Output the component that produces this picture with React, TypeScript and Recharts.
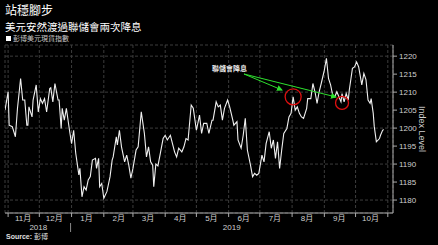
import React from 'react';
import { ComposedChart, Line, XAxis, YAxis, CartesianGrid, ReferenceDot } from 'recharts';

// day offsets counted from 2018-10-01
const days = [
  28, 31, 32, 35, 38, 40, 43, 45, 47, 49, 50, 51, 54, 55, 58, 60, 62, 64, 66, 68,
  71, 72, 74, 76, 79, 80, 82, 83, 85, 87, 90, 92, 94, 96, 99, 100, 102, 104, 106, 108,
  110, 112, 115, 116, 118, 119, 121, 123, 126, 129, 131, 132, 135, 136, 138, 140, 143, 145, 147, 149,
  151, 154, 156, 159, 162, 164, 166, 168, 170, 171, 173, 175, 177, 180, 182, 184, 187, 189, 191, 193,
  195, 198, 200, 202, 204, 207, 209, 212, 215, 217, 219, 222, 224, 227, 228, 231, 233, 235, 237, 239,
  242, 244, 247, 248, 251, 252, 255, 257, 259, 261, 264, 266, 268, 270, 272, 275, 277, 279, 282, 284,
  286, 288, 290, 292, 294, 296, 299, 301, 303, 305, 307, 309, 311, 313, 315, 318, 319, 322, 324, 326,
  328, 330, 332, 335, 337, 339, 341, 343, 345, 347, 349, 351, 352, 354, 356, 358, 359, 362, 364, 366,
  368, 371, 373, 375, 377, 379, 380, 382, 383, 385, 388, 389, 391, 392,
];

const indexLevel = [
  1205.0, 1210.1, 1200.8, 1200.4, 1197.6, 1205.5, 1213.8, 1207.8, 1207.8, 1200.8, 1200.8, 1205.9, 1203.1, 1207.8, 1212.0, 1204.5, 1208.2, 1206.9, 1208.2, 1204.5,
  1211.0, 1211.2, 1207.3, 1212.4, 1207.8, 1207.8, 1199.9, 1205.5, 1202.2, 1205.5, 1199.4, 1195.7, 1199.4, 1193.0, 1187.0, 1188.8, 1180.9, 1183.7, 1182.8, 1185.6,
  1186.5, 1191.1, 1191.6, 1188.8, 1191.6, 1183.7, 1184.6, 1180.5, 1182.4, 1186.5, 1191.1, 1192.0, 1197.6, 1195.3, 1199.4, 1194.8, 1190.6, 1192.5, 1189.7, 1186.1,
  1188.8, 1193.9, 1194.8, 1204.5, 1198.5, 1192.0, 1194.8, 1190.6, 1189.7, 1183.7, 1190.0, 1189.5, 1192.5, 1197.1, 1198.0, 1196.7, 1198.0, 1195.7, 1193.4, 1192.0,
  1194.4, 1193.4, 1194.8, 1197.1, 1196.7, 1206.4, 1205.5, 1199.4, 1203.6, 1198.5, 1201.3, 1201.3, 1198.5, 1202.2, 1202.2, 1207.3, 1205.9, 1206.4, 1202.2, 1205.5,
  1207.8, 1205.9, 1202.2, 1200.8, 1201.8, 1196.7, 1194.4, 1198.0, 1202.7, 1193.9, 1189.7, 1186.5, 1187.4, 1186.9, 1187.4, 1192.5, 1190.6, 1195.7, 1199.0, 1194.4,
  1196.7, 1191.6, 1196.2, 1188.8, 1193.9, 1198.5, 1199.9, 1203.1, 1204.1, 1208.7, 1205.0, 1205.9, 1204.1, 1203.1, 1202.7, 1205.5, 1208.2, 1208.2, 1212.4, 1210.1,
  1206.9, 1210.1, 1212.4, 1216.1, 1219.4, 1213.8, 1212.0, 1209.2, 1208.7, 1210.1, 1208.7, 1207.3, 1209.6, 1207.3, 1209.6, 1207.8, 1210.6, 1216.6, 1217.0, 1218.4,
  1217.0, 1212.0, 1215.2, 1213.5, 1207.8, 1206.9, 1208.2, 1204.1, 1200.4, 1196.2, 1197.1, 1198.0, 1199.4, 1199.6,
];

const monthStarts = [31, 61, 92, 123, 151, 182, 212, 243, 273, 304, 335, 365, 396];
const monthLabels = ['11月', '12月', '1月', '2月', '3月', '4月', '5月', '6月', '7月', '8月', '9月', '10月'];
const yearLabels = ['2018', '2019'];
const yearCentres = [60, 246]; // day offsets where the year labels sit
const yTicks = [1180, 1185, 1190, 1195, 1200, 1205, 1210, 1215, 1220];

const data = days.map((d, i) => ({ d, v: indexLevel[i] }));

const X_DOMAIN: [number, number] = [28, 401];
const PLOT_W = 388;
const PX_PER_DAY = PLOT_W / (X_DOMAIN[1] - X_DOMAIN[0]);

const FONT = "Arial, 'Liberation Sans', 'Noto Sans CJK TC', sans-serif";

const MonthTick = (props: any) => {
  const { x, y, payload, index } = props;
  const label = monthLabels[index];
  const jan = payload.value === 92;
  return (
    <g>
      {label && (
        <text x={x + 15} y={y + 2} textAnchor="middle" fill="#cfcfcf" fontSize={8} fontFamily={FONT}>
          {label}
        </text>
      )}
      {jan && (
        <g>
          <line x1={x - 1} x2={x - 1} y1={y + 4} y2={y + 13} stroke="#888" strokeWidth={1} />
          {yearLabels.map((t, i) => (
            <text
              key={t}
              x={x + (yearCentres[i] - 92) * PX_PER_DAY}
              y={y + 11}
              textAnchor="middle"
              fill="#cfcfcf"
              fontSize={8}
              fontFamily={FONT}
            >
              {t}
            </text>
          ))}
        </g>
      )}
    </g>
  );
};

export default function App() {
  return (
    <div style={{ position: 'absolute', left: 0, top: 0, width: 438, height: 245, background: '#000', overflow: 'hidden' }}>
      <div style={{ position: 'absolute', left: 5, top: 4, color: '#fff', fontSize: 12, lineHeight: '12px', fontFamily: "'Noto Sans CJK TC', serif" }}>
        站穩腳步
      </div>
      <div style={{ position: 'absolute', left: 5, top: 20, color: '#fff', fontSize: 10.5, lineHeight: '13px', fontFamily: "'Noto Sans CJK TC', serif" }}>
        美元安然渡過聯儲會兩次降息
      </div>
      <div style={{ position: 'absolute', left: 6, top: 34, color: '#c8c8c8', fontSize: 7, lineHeight: '9px', fontFamily: "'Noto Sans CJK TC', sans-serif", display: 'flex', alignItems: 'center' }}>
        <span style={{ display: 'inline-block', width: 5, height: 5, background: '#fff', marginRight: 2 }} />
        彭博美元現貨指數
      </div>

      <ComposedChart width={438} height={245} data={data} margin={{ top: 45, right: 0, left: 5, bottom: 3 }}>
        <CartesianGrid stroke="#3c3c3c" strokeDasharray="3 2" />
        <XAxis
          dataKey="d"
          type="number"
          domain={X_DOMAIN}
          ticks={monthStarts}
          tick={<MonthTick />}
          tickSize={4}
          height={29}
          interval={0}
          axisLine={{ stroke: '#aaa' }}
          tickLine={{ stroke: '#aaa' }}
          allowDataOverflow
        />
        <YAxis
          orientation="right"
          type="number"
          domain={[1176.4, 1223.1]}
          ticks={yTicks}
          allowDataOverflow
          width={45}
          tickSize={4}
          axisLine={{ stroke: '#aaa' }}
          tickLine={{ stroke: '#aaa' }}
          tick={{ fill: '#cfcfcf', fontSize: 8, fontFamily: FONT }}
        />
        <Line
          dataKey="v"
          type="linear"
          stroke="#f0f0f0"
          strokeWidth={1.1}
          dot={false}
          isAnimationActive={false}
        />
        <ReferenceDot x={305} y={1208.7} r={8} fill="none" stroke="#e01010" strokeWidth={1.3} />
        <ReferenceDot x={352} y={1207} r={6.5} fill="none" stroke="#e01010" strokeWidth={1.3} />
      </ComposedChart>

      <svg width={438} height={245} style={{ position: 'absolute', left: 0, top: 0, pointerEvents: 'none' }}>
        <defs>
          <marker id="ah" markerWidth="6" markerHeight="6" refX="5" refY="3" orient="auto" markerUnits="userSpaceOnUse">
            <path d="M0,0 L6,3 L0,6 Z" fill="#2ee02e" />
          </marker>
        </defs>
        <line x1={244} y1={74} x2={282} y2={90} stroke="#2ee02e" strokeWidth={1} markerEnd="url(#ah)" />
        <line x1={244} y1={74} x2={336} y2={97} stroke="#2ee02e" strokeWidth={1} markerEnd="url(#ah)" />
        <text x={212} y={71} fill="#e8e8e8" fontSize={7} fontWeight="bold" fontFamily="'Noto Sans CJK TC', sans-serif">
          聯儲會降息
        </text>
        <text
          x={419}
          y={129}
          fill="#cfcfcf"
          fontSize={9}
          fontFamily={FONT}
          textAnchor="middle"
          transform="rotate(90 419 129)"
        >
          Index Level
        </text>
        <text x={6} y={239} fill="#e0e0e0" fontSize={7} fontFamily={FONT}>
          <tspan fontWeight="bold">Source:</tspan> 彭博
        </text>
      </svg>
    </div>
  );
}
